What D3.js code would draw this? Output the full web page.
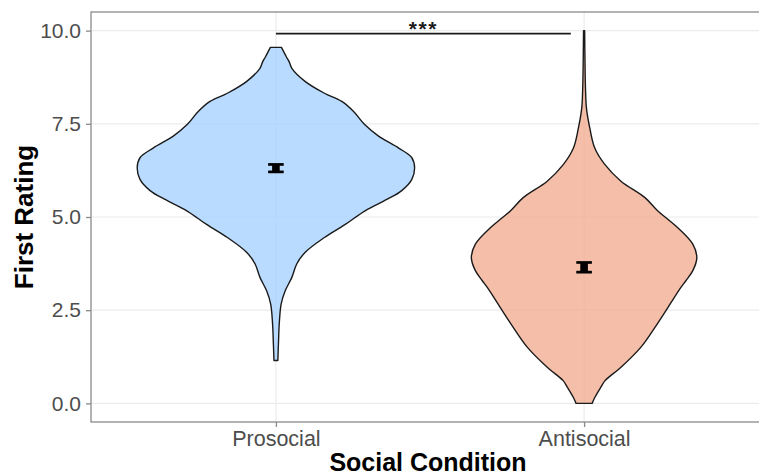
<!DOCTYPE html>
<html>
<head>
<meta charset="utf-8">
<script src="https://cdn.jsdelivr.net/npm/d3@7"></script>
<style>
  html, body { margin: 0; padding: 0; background: #fff; }
  svg { display: block; font-family: "Liberation Sans", Arial, sans-serif; }
</style>
</head>
<body>
<svg id="chart" width="759" height="475"></svg>
<script>
// Conditions on the x axis
const categories = ["Prosocial", "Antisocial"];

// Violin outlines: rating value and scaled density (1 = widest violin)
const prosocialRatings = [1.15, 1.68, 2.13, 2.67, 3.02, 3.38, 3.74, 4.05, 4.45, 4.80, 5.16, 5.47, 5.70, 6.01, 6.32, 6.59, 6.85, 7.17, 7.48, 7.83, 8.10, 8.32, 8.64, 8.99, 9.17, 9.30, 9.55];
const prosocialDensity = [0.014, 0.019, 0.024, 0.038, 0.067, 0.115, 0.15, 0.21, 0.35, 0.50, 0.64, 0.80, 0.905, 0.98, 1.0, 0.98, 0.885, 0.74, 0.64, 0.56, 0.475, 0.35, 0.21, 0.115, 0.095, 0.075, 0.04];

const antisocialRatings = [0.0, 0.17, 0.44, 0.61, 0.97, 1.51, 2.04, 2.57, 3.11, 3.29, 3.56, 3.91, 4.27, 4.71, 4.94, 5.16, 5.52, 5.96, 6.41, 6.85, 7.39, 7.92, 8.46, 9.0, 10.0];
const antisocialDensity = [0.058, 0.079, 0.122, 0.151, 0.266, 0.41, 0.511, 0.604, 0.698, 0.734, 0.784, 0.813, 0.784, 0.676, 0.604, 0.532, 0.439, 0.266, 0.149, 0.077, 0.041, 0.017, 0.01, 0.007, 0.004];

// Mean rating and error-bar half-length per condition
const means = [6.31, 3.65];
const errors = [0.10, 0.13];

// Y axis ticks
const yTicks = [0, 2.5, 5, 7.5, 10];

// Significance bracket
const sigLabel = "***";
const sigHeight = 9.92;

const fills = ["#a8d2ff", "#f2ae92"];

const svg = d3.select("#chart");

// Panel box (the right edge extends past the visible canvas)
const panel = { left: 91, right: 769, top: 12, bottom: 422 };

const x = d3.scalePoint()
  .domain(categories)
  .range([panel.left, panel.right])
  .padding(0.6);

const y = d3.scaleLinear()
  .domain([-0.5, 10.5])
  .range([panel.bottom, panel.top]);

const halfWidth = x.step() * 0.45;

// Gridlines
const grid = svg.append("g").attr("class", "grid");
grid.selectAll("line.h")
  .data(yTicks)
  .join("line")
  .attr("x1", panel.left).attr("x2", panel.right)
  .attr("y1", d => y(d)).attr("y2", d => y(d))
  .attr("stroke", "#ebebeb").attr("stroke-width", 1.2);
grid.selectAll("line.v")
  .data(categories)
  .join("line")
  .attr("x1", d => x(d)).attr("x2", d => x(d))
  .attr("y1", panel.top).attr("y2", panel.bottom)
  .attr("stroke", "#ebebeb").attr("stroke-width", 1.2);

// Violins: each side is a smooth curve, joined by straight ends
const violins = [
  { cat: categories[0], r: prosocialRatings, d: prosocialDensity, fill: fills[0] },
  { cat: categories[1], r: antisocialRatings, d: antisocialDensity, fill: fills[1] }
];

const side = d3.line()
  .x(p => p[0]).y(p => p[1])
  .curve(d3.curveCatmullRom.alpha(0.5));

violins.forEach(v => {
  const cx = x(v.cat);
  const right = v.r.map((r, i) => [cx + v.d[i] * halfWidth, y(r)]);
  const left = v.r.map((r, i) => [cx - v.d[i] * halfWidth, y(r)]).reverse();
  const pathD = side(right) + "L" + side(left).slice(1) + "Z";
  svg.append("path")
    .attr("d", pathD)
    .attr("fill", v.fill)
    .attr("fill-opacity", 0.8)
    .attr("stroke", "#1a1a1a")
    .attr("stroke-width", 1.4)
    .attr("stroke-linejoin", "round");
});

// Mean markers with error bars
const eb = svg.append("g").attr("class", "errorbars");
categories.forEach((c, i) => {
  const cx = x(c);
  const top = y(means[i] + errors[i]);
  const bot = y(means[i] - errors[i]);
  eb.append("rect")
    .attr("x", cx - 3.8).attr("width", 7.6)
    .attr("y", top).attr("height", bot - top)
    .attr("fill", "#000");
  [top, bot].forEach(yy => {
    eb.append("line")
      .attr("x1", cx - 7.8).attr("x2", cx + 7.8)
      .attr("y1", yy).attr("y2", yy)
      .attr("stroke", "#000").attr("stroke-width", 2.7);
  });
});

// Significance bracket between the two conditions
const sigStart = x(categories[0]);
const sigEnd = x(categories[1]) - x.step() * 0.043;
svg.append("line")
  .attr("x1", sigStart).attr("x2", sigEnd)
  .attr("y1", y(sigHeight)).attr("y2", y(sigHeight))
  .attr("stroke", "#1a1a1a").attr("stroke-width", 1.8);
svg.append("text")
  .attr("x", (sigStart + sigEnd) / 2)
  .attr("y", y(sigHeight) + 2)
  .attr("text-anchor", "middle")
  .attr("font-size", 21)
  .attr("font-weight", "bold")
  .attr("letter-spacing", 1.5)
  .attr("fill", "#1a1a1a")
  .text(sigLabel);

// Panel border
svg.append("rect")
  .attr("x", panel.left).attr("y", panel.top)
  .attr("width", panel.right - panel.left)
  .attr("height", panel.bottom - panel.top)
  .attr("fill", "none")
  .attr("stroke", "#8a8a8a")
  .attr("stroke-width", 1.3);

// Y axis
const yAxis = svg.append("g")
  .attr("transform", `translate(${panel.left},0)`)
  .call(d3.axisLeft(y).tickValues(yTicks).tickFormat(d3.format(".1f")).tickSize(5).tickPadding(5));
yAxis.select(".domain").remove();
yAxis.selectAll(".tick line").attr("stroke", "#8a8a8a").attr("stroke-width", 1.3);
yAxis.selectAll(".tick text")
  .attr("fill", "#4d4d4d")
  .attr("font-size", 21)
  .attr("font-family", "Liberation Sans, Arial, sans-serif");

// X axis
const xAxis = svg.append("g")
  .attr("transform", `translate(0,${panel.bottom})`)
  .call(d3.axisBottom(x).tickSize(5).tickPadding(4));
xAxis.select(".domain").remove();
xAxis.selectAll(".tick line").attr("stroke", "#8a8a8a").attr("stroke-width", 1.3);
xAxis.selectAll(".tick text")
  .attr("fill", "#4d4d4d")
  .attr("font-size", 21.5)
  .attr("font-family", "Liberation Sans, Arial, sans-serif");

// Axis titles
svg.append("text")
  .attr("x", (panel.left + panel.right) / 2 - 2)
  .attr("y", 471)
  .attr("text-anchor", "middle")
  .attr("font-size", 25)
  .attr("font-weight", "bold")
  .attr("fill", "#000")
  .text("Social Condition");

svg.append("text")
  .attr("transform", `translate(33,${(panel.top + panel.bottom) / 2}) rotate(-90)`)
  .attr("text-anchor", "middle")
  .attr("font-size", 26)
  .attr("font-weight", "bold")
  .attr("fill", "#000")
  .text("First Rating");
</script>
</body>
</html>
